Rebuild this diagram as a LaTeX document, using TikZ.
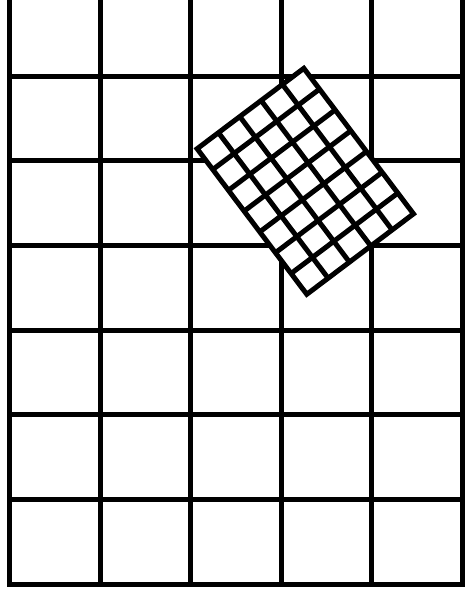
\documentclass[tikz,border=0pt]{standalone}
\usepackage{tikz}
\begin{document}
\begin{tikzpicture}[
    x=1pt, y=-1pt,
    gridline/.style={line width=5pt, draw=black},
    frameline/.style={line width=5pt, draw=black, line join=miter},
    tileframe/.style={line width=5pt, draw=black, fill=white, line join=miter}
]
\useasboundingbox (0,0) rectangle (465,598);
\clip (0,0) rectangle (465,598);

% Main grid
\draw[frameline] (9.5,-20) -- (9.5,584) -- (462,584) -- (462,-20);
\foreach \i in {1,...,4}
    \draw[gridline] ({9.5+90.5*\i},-20) -- ({9.5+90.5*\i},584);
\foreach \j in {0,...,5}
    \draw[gridline] (9.5,{76+84.67*\j}) -- (462,{76+84.67*\j});

% Rotated fine grid
\begin{scope}[shift={(305.3,181.3)}, rotate=37]
    \draw[tileframe] (-66.8,-91.1) rectangle (66.8,91.1);
    \foreach \i in {1,...,4}
        \draw[gridline] ({-66.8+26.72*\i},-91.1) -- ({-66.8+26.72*\i},91.1);
    \foreach \j in {1,...,6}
        \draw[gridline] (-66.8,{-91.1+26.03*\j}) -- (66.8,{-91.1+26.03*\j});
\end{scope}
\end{tikzpicture}
\end{document}
